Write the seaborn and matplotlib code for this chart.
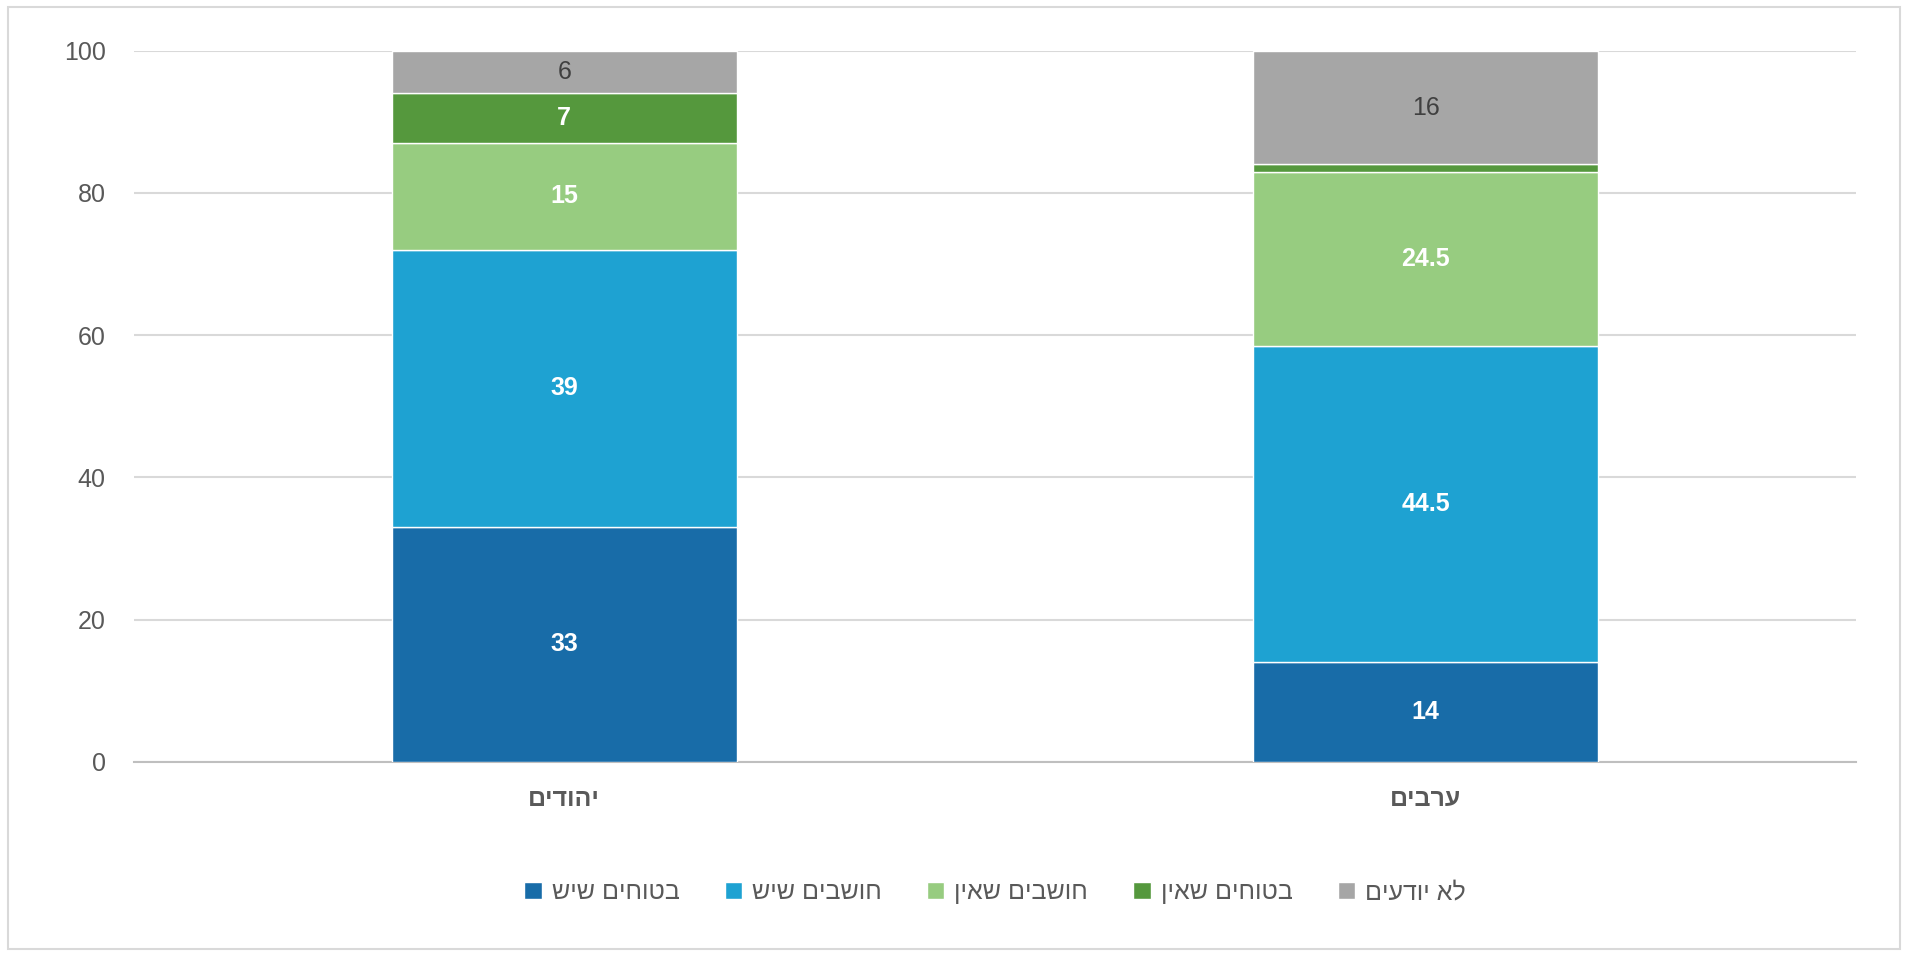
import numpy as np
import matplotlib.pyplot as plt
import seaborn as sns
from matplotlib.patches import Rectangle

# data (Hebrew kept in logical order, reversed only for drawing since matplotlib has no bidi)
groups = ['יהודים', 'ערבים']
series = ['בטוחים שיש', 'חושבים שיש', 'חושבים שאין', 'בטוחים שאין', 'לא יודעים']
values = {
    'בטוחים שיש': [33, 14],
    'חושבים שיש': [39, 44.5],
    'חושבים שאין': [15, 24.5],
    'בטוחים שאין': [7, 1],
    'לא יודעים': [6, 16],
}
labels = {
    'בטוחים שיש': ['33', '14'],
    'חושבים שיש': ['39', '44.5'],
    'חושבים שאין': ['15', '24.5'],
    'בטוחים שאין': ['7', ''],
    'לא יודעים': ['6', '16'],
}
colors = ['#0070C0', '#00B0F0', '#92D973', '#4EA72E', '#A6A6A6']

def heb(s):
    return s[::-1]

sns.set_style('white')
plt.rcParams['font.family'] = ['Arial', 'Liberation Sans', 'DejaVu Sans']

fig = plt.figure(figsize=(19.08, 9.57), dpi=100)
ax = fig.add_axes([0.07, 0.204, 0.903, 0.743])

xs = [heb(g) for g in groups]
bottom = np.zeros(len(groups))
for name, col in zip(series, colors):
    v = np.array(values[name], dtype=float)
    sns.barplot(x=xs, y=v, bottom=bottom, color=col, width=0.4, ax=ax,
                label=heb(name), zorder=3)
    for i, lab in enumerate(labels[name]):
        if lab:
            txtcol = '#404040' if name == 'לא יודעים' else 'white'
            weight = 'normal' if name == 'לא יודעים' else 'bold'
            ax.text(i, bottom[i] + v[i] / 2, lab, ha='center', va='center',
                    color=txtcol, fontsize=18, fontweight=weight, zorder=4)
    bottom += v

ax.set_ylim(0, 100)
ax.set_xlim(-0.5, 1.5)
ax.set_yticks(range(0, 101, 20))
ax.yaxis.grid(True, color='#D9D9D9', linewidth=1.5, zorder=0)
ax.set_axisbelow(True)
for s in ['top', 'right', 'left']:
    ax.spines[s].set_visible(False)
ax.spines['bottom'].set_color('#BFBFBF')
ax.spines['bottom'].set_linewidth(1.5)
ax.tick_params(axis='y', labelsize=18, labelcolor='#595959', length=0, pad=20)
ax.tick_params(axis='x', labelsize=18, labelcolor='#595959', length=0, pad=18)
for t in ax.get_xticklabels():
    t.set_fontweight('bold')
ax.set_xlabel('')
ax.set_ylabel('')

leg = ax.legend(loc='upper center', bbox_to_anchor=(0.5, -0.135), ncol=5, frameon=False,
                fontsize=18, handlelength=0.7, handleheight=0.7, columnspacing=1.8,
                handletextpad=0.4)
for t in leg.get_texts():
    t.set_color('#595959')

fig.patches.append(Rectangle((0.004, 0.008), 0.992, 0.985, transform=fig.transFigure,
                             fill=False, edgecolor='#D9D9D9', linewidth=1.5))

fig.savefig('out.png', dpi=100)
